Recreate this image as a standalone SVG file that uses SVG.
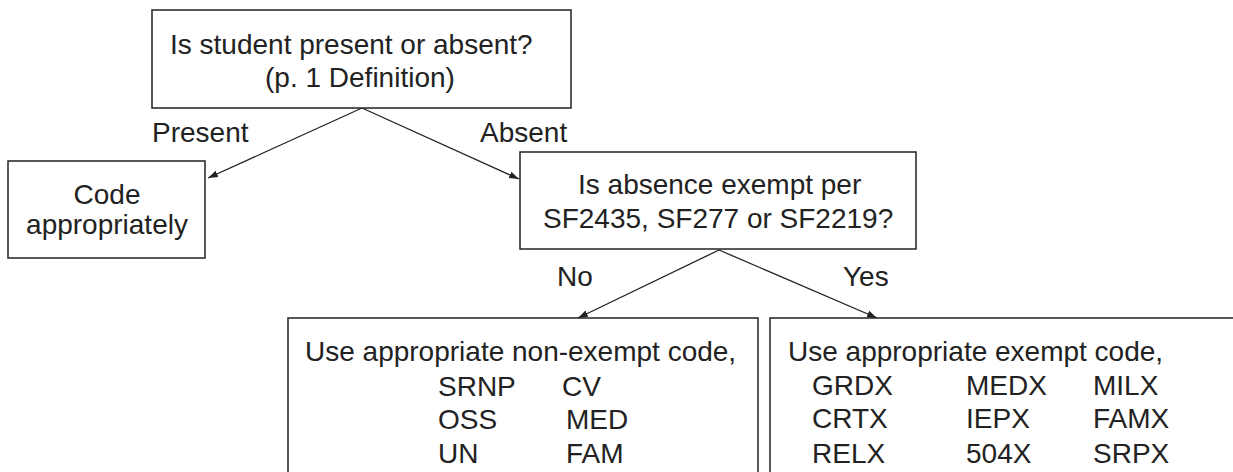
<svg xmlns="http://www.w3.org/2000/svg" width="1233" height="472" viewBox="0 0 1233 472">
  <style>
    .box { fill: #ffffff; stroke: #222222; stroke-width: 1.5; }
    .edge { fill: none; stroke: #222222; stroke-width: 1.3; marker-end: url(#arrow); }
    text { font-family: "Liberation Sans", Arial, sans-serif; font-size: 28px; fill: #222222; }
    .mid { text-anchor: middle; }
  </style>
  <defs>
    <marker id="arrow" markerUnits="userSpaceOnUse" markerWidth="11" markerHeight="8" refX="10" refY="4" orient="auto">
      <path d="M0,0.5 L10,4 L0,7.5 z" fill="#222222"/>
    </marker>
  </defs>

  <rect width="1233" height="472" fill="#ffffff"/>

  <!-- connectors -->
  <g id="connectors">
    <line class="edge" x1="362" y1="108" x2="208" y2="178"/>
    <line class="edge" x1="362" y1="108" x2="519" y2="179"/>
    <line class="edge" x1="719" y1="250" x2="578" y2="318"/>
    <line class="edge" x1="719" y1="250" x2="877" y2="318"/>
    <text x="152" y="142">Present</text>
    <text x="480" y="142">Absent</text>
    <text x="557" y="286">No</text>
    <text x="843" y="286">Yes</text>
  </g>

  <!-- question: present or absent -->
  <g id="q-present">
    <rect class="box" x="152" y="10" width="419" height="98"/>
    <text x="170" y="54">Is student present or absent?</text>
    <text x="265" y="87">(p. 1 Definition)</text>
  </g>

  <!-- present outcome -->
  <g id="code-appropriately">
    <rect class="box" x="8" y="161" width="197" height="97"/>
    <text class="mid" x="107" y="204">Code</text>
    <text class="mid" x="107" y="234">appropriately</text>
  </g>

  <!-- question: exempt absence -->
  <g id="q-exempt">
    <rect class="box" x="520" y="152" width="396" height="97"/>
    <text x="578" y="194">Is absence exempt per</text>
    <text x="543" y="228">SF2435, SF277 or SF2219?</text>
  </g>

  <!-- non-exempt codes -->
  <g id="non-exempt">
    <rect class="box" x="288" y="318" width="470" height="170"/>
    <text x="305" y="361">Use appropriate non-exempt code,</text>
    <text x="438" y="396">SRNP</text>
    <text x="562" y="396">CV</text>
    <text x="438" y="429">OSS</text>
    <text x="566" y="429">MED</text>
    <text x="438" y="463">UN</text>
    <text x="566" y="463">FAM</text>
  </g>

  <!-- exempt codes -->
  <g id="exempt">
    <rect class="box" x="770" y="318" width="480" height="170"/>
    <text x="788" y="361">Use appropriate exempt code,</text>
    <text x="812" y="395">GRDX</text>
    <text x="966" y="395">MEDX</text>
    <text x="1093" y="395">MILX</text>
    <text x="812" y="428">CRTX</text>
    <text x="966" y="428">IEPX</text>
    <text x="1093" y="428">FAMX</text>
    <text x="812" y="463">RELX</text>
    <text x="966" y="463">504X</text>
    <text x="1093" y="463">SRPX</text>
  </g>
</svg>
